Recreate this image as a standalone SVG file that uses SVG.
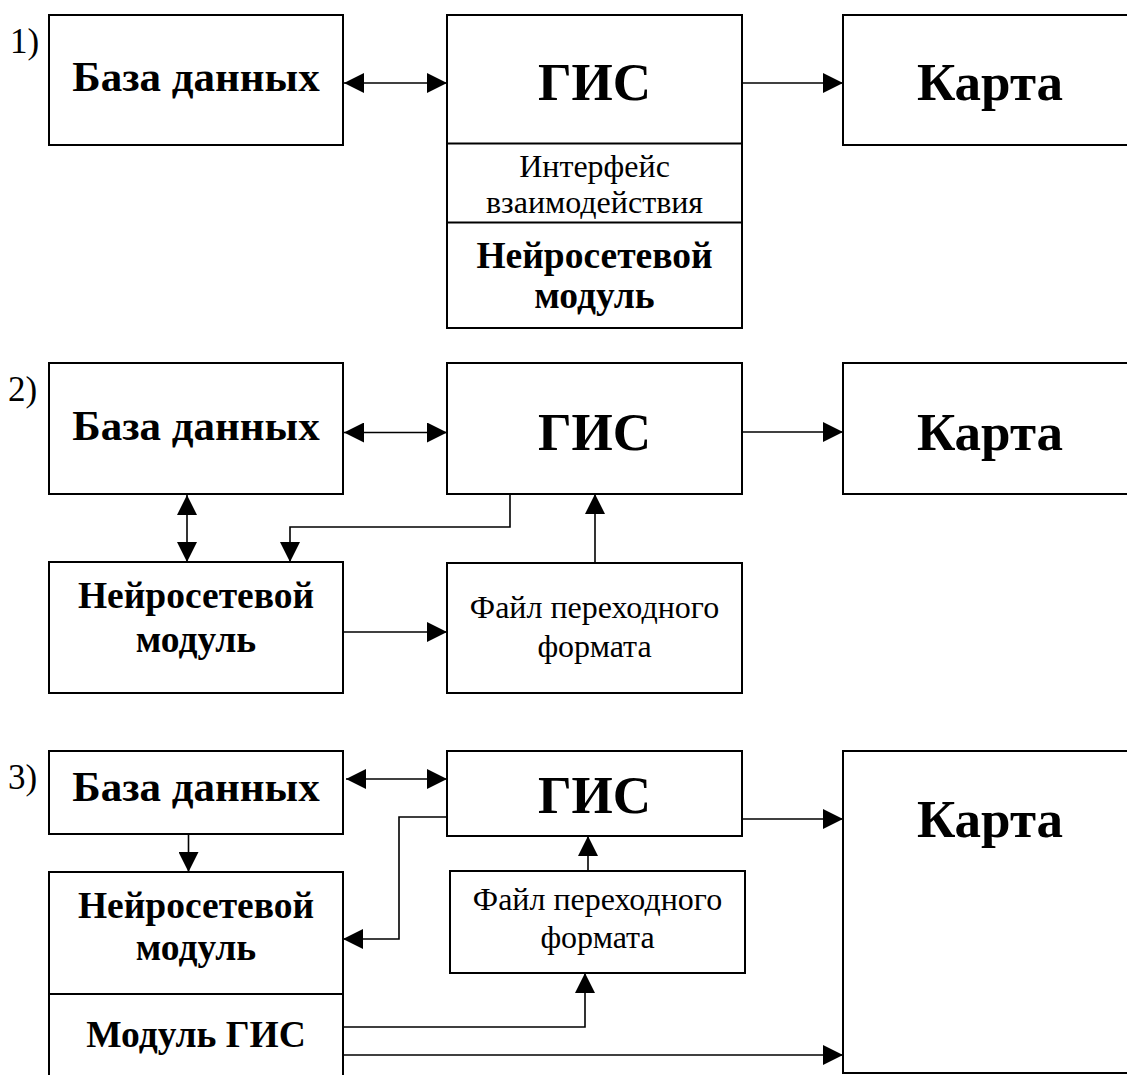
<svg xmlns="http://www.w3.org/2000/svg" width="1127" height="1075" viewBox="0 0 1127 1075">
  <style>
    .box { fill: #fff; stroke: #000; stroke-width: 2; }
    .div { stroke: #000; stroke-width: 2; }
    .wire { fill: none; stroke: #000; stroke-width: 1.6; }
    text { font-family: "Liberation Serif", "Times New Roman", serif; fill: #000; }
    .b { font-weight: bold; text-anchor: middle; }
    .r { font-weight: normal; text-anchor: middle; }
    .big { font-size: 53px; }
    .mid { font-size: 43px; }
    .sm { font-size: 37.5px; }
    .lbl { font-size: 32px; }
    .num { font-size: 35px; }
  </style>
  <defs>
    <marker id="ah" markerUnits="userSpaceOnUse" markerWidth="20" markerHeight="20" viewBox="0 0 19 19" refX="19" refY="9.5" orient="auto-start-reverse">
      <path d="M0,0 L19,9.5 L0,19 z" fill="#000"/>
    </marker>
  </defs>

  <rect width="1127" height="1075" fill="#fff"/>

  <!-- scheme numbers -->
  <text class="num" x="10" y="53">1)</text>
  <text class="num" x="8" y="401">2)</text>
  <text class="num" x="8" y="789">3)</text>

  <!-- ===== Scheme 1 ===== -->
  <g id="s1-db">
    <rect class="box" x="49" y="15" width="294" height="130"/>
    <text class="b mid" x="196" y="91">База данных</text>
  </g>
  <g id="s1-gis">
    <rect class="box" x="447" y="15" width="295" height="313"/>
    <line class="div" x1="447" y1="143.5" x2="742" y2="143.5"/>
    <line class="div" x1="447" y1="222.5" x2="742" y2="222.5"/>
    <text class="b big" x="594.5" y="100">ГИС</text>
    <text class="r lbl" x="594.5" y="177">Интерфейс</text>
    <text class="r lbl" x="594.5" y="213">взаимодействия</text>
    <text class="b sm" x="594.5" y="268">Нейросетевой</text>
    <text class="b sm" x="594.5" y="308">модуль</text>
  </g>
  <g id="s1-map">
    <rect class="box" x="843" y="15" width="300" height="130"/>
    <text class="b big" x="990" y="100">Карта</text>
  </g>

  <!-- ===== Scheme 2 ===== -->
  <g id="s2-db">
    <rect class="box" x="49" y="363" width="294" height="131"/>
    <text class="b mid" x="196" y="440">База данных</text>
  </g>
  <g id="s2-gis">
    <rect class="box" x="447" y="363" width="295" height="131"/>
    <text class="b big" x="594.5" y="450">ГИС</text>
  </g>
  <g id="s2-map">
    <rect class="box" x="843" y="363" width="300" height="131"/>
    <text class="b big" x="990" y="450">Карта</text>
  </g>
  <g id="s2-nn">
    <rect class="box" x="49" y="562" width="294" height="131"/>
    <text class="b sm" x="196" y="608">Нейросетевой</text>
    <text class="b sm" x="196" y="652">модуль</text>
  </g>
  <g id="s2-file">
    <rect class="box" x="447" y="563" width="295" height="130"/>
    <text class="r lbl" x="594.5" y="618">Файл переходного</text>
    <text class="r lbl" x="594.5" y="657">формата</text>
  </g>

  <!-- ===== Scheme 3 ===== -->
  <g id="s3-db">
    <rect class="box" x="49" y="751" width="294" height="83"/>
    <text class="b mid" x="196" y="801">База данных</text>
  </g>
  <g id="s3-gis">
    <rect class="box" x="447" y="751" width="295" height="85"/>
    <text class="b big" x="594.5" y="813">ГИС</text>
  </g>
  <g id="s3-file">
    <rect class="box" x="450" y="871" width="295" height="102"/>
    <text class="r lbl" x="597.5" y="910">Файл переходного</text>
    <text class="r lbl" x="597.5" y="948">формата</text>
  </g>
  <g id="s3-nn">
    <rect class="box" x="49" y="872" width="294" height="210"/>
    <line class="div" x1="49" y1="994" x2="343" y2="994"/>
    <text class="b sm" x="196" y="918">Нейросетевой</text>
    <text class="b sm" x="196" y="960">модуль</text>
    <text class="b sm" x="196" y="1047">Модуль ГИС</text>
  </g>
  <g id="s3-map">
    <rect class="box" x="843" y="751" width="300" height="322"/>
    <text class="b big" x="990" y="837">Карта</text>
  </g>

  <!-- connectors -->
  <g id="connectors">
    <!-- scheme 1 -->
    <line class="wire" x1="344" y1="83" x2="447" y2="83" marker-start="url(#ah)" marker-end="url(#ah)"/>
    <line class="wire" x1="742" y1="83" x2="843" y2="83" marker-end="url(#ah)"/>
    <!-- scheme 2 -->
    <line class="wire" x1="344" y1="432.5" x2="447" y2="432.5" marker-start="url(#ah)" marker-end="url(#ah)"/>
    <line class="wire" x1="742" y1="432" x2="843" y2="432" marker-end="url(#ah)"/>
    <line class="wire" x1="187" y1="495" x2="187" y2="562" marker-start="url(#ah)" marker-end="url(#ah)"/>
    <path class="wire" d="M510,494 V527 H290 V562" marker-end="url(#ah)"/>
    <line class="wire" x1="595" y1="563" x2="595" y2="494" marker-end="url(#ah)"/>
    <line class="wire" x1="343" y1="632" x2="447" y2="632" marker-end="url(#ah)"/>
    <!-- scheme 3 -->
    <line class="wire" x1="346" y1="779" x2="447" y2="779" marker-start="url(#ah)" marker-end="url(#ah)"/>
    <line class="wire" x1="188.5" y1="834" x2="188.5" y2="872" marker-end="url(#ah)"/>
    <path class="wire" d="M447,817 H399 V939 H343" marker-end="url(#ah)"/>
    <line class="wire" x1="742" y1="819" x2="843" y2="819" marker-end="url(#ah)"/>
    <line class="wire" x1="588" y1="871" x2="588" y2="836" marker-end="url(#ah)"/>
    <path class="wire" d="M343,1027 H585 V973" marker-end="url(#ah)"/>
    <line class="wire" x1="343" y1="1055" x2="843" y2="1055" marker-end="url(#ah)"/>
  </g>
</svg>
